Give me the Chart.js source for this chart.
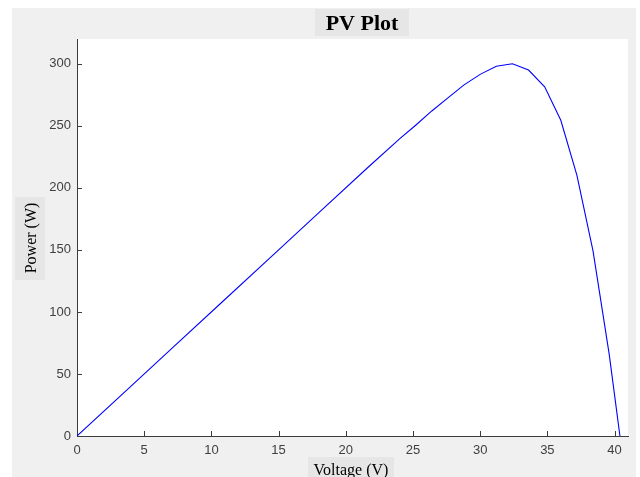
<!DOCTYPE html>
<html>
<head>
<meta charset="utf-8">
<script src="https://cdn.jsdelivr.net/npm/chart.js@4/dist/chart.umd.min.js"></script>
<style>
  html, body { margin: 0; padding: 0; background: #fff; }
  #wrap { width: 640px; height: 477px; }
</style>
</head>
<body>
<div id="wrap"><canvas id="pv"></canvas></div>
<script>
// PV curve
const voltage = [0, 3.6, 7.2, 10.8, 14.4, 18, 21.6, 24, 25.2, 26.4, 27.6, 28.8, 30, 31.2, 32.4, 33.6, 34.8, 36, 37.2, 38.4, 39.6, 40.4];
const power   = [0, 36, 72, 108, 144, 180, 216, 239.5, 250.5, 262, 272.5, 283, 291.5, 298, 300, 295, 281.5, 254.5, 210, 149, 66, 0];

const xTicks = [0, 5, 10, 15, 20, 25, 30, 35, 40];
const yTicks = [0, 50, 100, 150, 200, 250, 300];

const titleText = 'PV Plot';
const xLabel = 'Voltage (V)';
const yLabel = 'Power (W)';

const axisColor = '#3c3c3c';

// matlab-ish figure: grey background, white axes, inward ticks, labels in grey boxes
const figurePlugin = {
  id: 'figure',
  beforeDraw(chart) {
    const c = chart.ctx, a = chart.chartArea;
    c.save();
    c.fillStyle = '#ffffff';
    c.fillRect(0, 0, chart.width, chart.height);
    c.fillStyle = '#f0f0f0';
    c.fillRect(12, 8, 624, chart.height - 8);
    c.fillStyle = '#ffffff';
    c.fillRect(a.left, a.top, a.right - a.left, a.bottom - a.top);
    c.restore();
  },
  afterDraw(chart) {
    const c = chart.ctx, a = chart.chartArea;
    const xs = chart.scales.x, ys = chart.scales.y;
    c.save();
    // inward tick marks
    c.strokeStyle = axisColor;
    c.lineWidth = 1;
    c.beginPath();
    xs.ticks.forEach(t => {
      if (t.value === 0) return;
      const px = Math.round(xs.getPixelForValue(t.value)) + 0.5;
      c.moveTo(px, a.bottom);
      c.lineTo(px, a.bottom - 5);
    });
    ys.ticks.forEach(t => {
      if (t.value === 0) return;
      const py = Math.round(ys.getPixelForValue(t.value)) + 0.5;
      c.moveTo(a.left, py);
      c.lineTo(a.left + 5, py);
    });
    c.stroke();

    // title
    c.fillStyle = '#e6e6e6';
    c.fillRect(315, 9, 94, 27);
    c.fillStyle = '#000';
    c.font = 'bold 22px "Liberation Serif", "Times New Roman", serif';
    c.textAlign = 'center';
    c.textBaseline = 'alphabetic';
    c.fillText(titleText, 362, 30);

    // x label
    c.fillStyle = '#e6e6e6';
    c.fillRect(308, 457, 86, 20);
    c.fillStyle = '#000';
    c.font = '16px "Liberation Serif", "Times New Roman", serif';
    c.fillText(xLabel, 351, 475);

    // y label
    c.fillStyle = '#e6e6e6';
    c.fillRect(15, 197, 30, 83);
    c.translate(36, 238);
    c.rotate(-Math.PI / 2);
    c.fillStyle = '#000';
    c.fillText(yLabel, 0, 0);
    c.restore();
  }
};

new Chart(document.getElementById('pv'), {
  type: 'line',
  data: {
    datasets: [{
      data: voltage.map((v, i) => ({ x: v, y: power[i] })),
      borderColor: '#0000ff',
      borderWidth: 1.1,
      pointRadius: 0,
      tension: 0,
      fill: false
    }]
  },
  options: {
    responsive: true,
    maintainAspectRatio: false,
    animation: false,
    layout: { padding: { left: 0, top: 39, right: 12, bottom: 0 } },
    plugins: { legend: { display: false }, tooltip: { enabled: false }, title: { display: false } },
    scales: {
      x: {
        type: 'linear',
        min: 0,
        max: 41,
        grid: { display: false, drawTicks: false },
        border: { display: true, color: axisColor, width: 1 },
        afterBuildTicks: s => { s.ticks = xTicks.map(v => ({ value: v })); },
        afterFit: s => { s.height = 41; },
        ticks: {
          padding: 7,
          maxRotation: 0,
          color: '#404040',
          font: { family: '"Liberation Sans", Arial, sans-serif', size: 13 }
        }
      },
      y: {
        min: 0,
        max: 320,
        grid: { display: false, drawTicks: false },
        border: { display: true, color: axisColor, width: 1 },
        afterBuildTicks: s => { s.ticks = yTicks.map(v => ({ value: v })); },
        afterFit: s => { s.width = 77; },
        ticks: {
          padding: 6,
          color: '#404040',
          font: { family: '"Liberation Sans", Arial, sans-serif', size: 13 }
        }
      }
    }
  },
  plugins: [figurePlugin]
});
</script>
</body>
</html>
